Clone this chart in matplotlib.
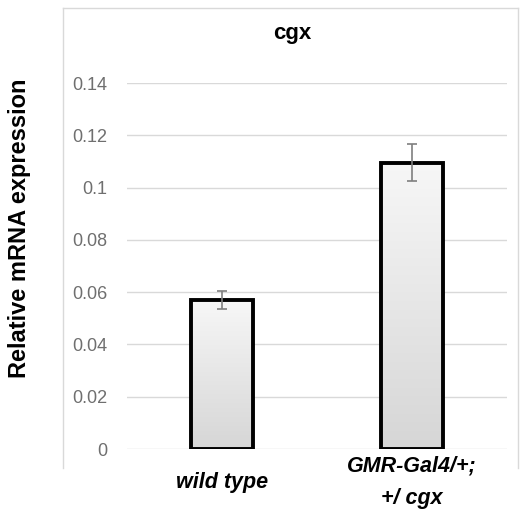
import matplotlib
matplotlib.use("Agg")
import matplotlib.pyplot as plt
import numpy as np
from matplotlib.lines import Line2D
from matplotlib.colors import LinearSegmentedColormap

categories = ["wild type", "GMR-Gal4/+;\n+/ cgx"]
values = [0.057, 0.1095]
errors = [0.0035, 0.007]
yticks = [0, 0.02, 0.04, 0.06, 0.08, 0.1, 0.12, 0.14]
ytick_labels = ["0", "0.02", "0.04", "0.06", "0.08", "0.1", "0.12", "0.14"]

plt.rcParams['font.family'] = ['Liberation Sans', 'DejaVu Sans']

fig = plt.figure(figsize=(5.2, 5.14), dpi=100)
ax = fig.add_axes([127/520, 1-449/514, 380/520, 366/514])

x = np.arange(len(categories))
bars = ax.bar(x, values, width=0.33, color='none', edgecolor='black', linewidth=2.8, zorder=3)

grad = np.linspace(0, 1, 256).reshape(-1, 1)
cmap = LinearSegmentedColormap.from_list('g', ['#d6d6d6', '#f7f7f7'])
for b in bars:
    x0, y0 = b.get_x(), b.get_y()
    w, h = b.get_width(), b.get_height()
    im = ax.imshow(grad, extent=[x0, x0 + w, y0, y0 + h], origin='lower',
                   cmap=cmap, aspect='auto', zorder=2)
    im.set_clip_path(b)

ax.errorbar(x, values, yerr=errors, fmt='none', ecolor='#7f7f7f', elinewidth=1.2,
            capsize=3.5, capthick=1.2, zorder=4)

ax.set_xlim(-0.5, 1.5)
ax.set_ylim(0, 0.14)
ax.set_yticks(yticks)
ax.set_yticklabels(ytick_labels, color='#6f6f6f', fontsize=13)
ax.set_xticks(x)
ax.set_xticklabels(categories, fontsize=15.5, fontweight='bold', fontstyle='italic',
                   linespacing=1.75, va='center')
ax.tick_params(axis='y', length=0, pad=14)
ax.tick_params(axis='x', length=0, pad=24)
ax.yaxis.grid(True, color='#d9d9d9', linewidth=1)
ax.set_axisbelow(True)
for s in ax.spines.values():
    s.set_visible(False)

fig.text(292/520, 1-33/514, "cgx", ha='center', va='center', fontsize=16, fontweight='bold')
fig.text(20/520, 1-228/514, "Relative mRNA expression", rotation=90, ha='center', va='center',
         fontsize=17, fontweight='bold')

# chart area border
c = '#d9d9d9'
fig.add_artist(Line2D([63/520, 63/520], [1-468/514, 1-8/514], color=c, lw=1, transform=fig.transFigure))
fig.add_artist(Line2D([63/520, 518/520], [1-8/514, 1-8/514], color=c, lw=1, transform=fig.transFigure))
fig.add_artist(Line2D([518/520, 518/520], [1-468/514, 1-8/514], color=c, lw=1, transform=fig.transFigure))

fig.savefig("out.png", dpi=100)
